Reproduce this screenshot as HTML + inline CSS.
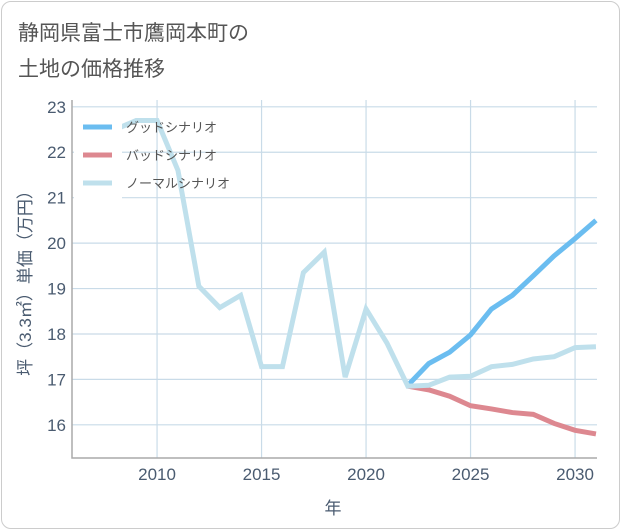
<!DOCTYPE html>
<html><head><meta charset="utf-8"><style>
body{margin:0;background:#fff;font-family:"Liberation Sans","Noto Sans CJK JP",sans-serif;}
#card{position:absolute;left:1px;top:1px;width:617px;height:526px;border:1px solid #ccc;border-radius:10px;background:#fff;}
</style></head><body>
<div id="card"></div>
<svg id="c" width="621" height="530" style="position:absolute;left:0;top:0">
<text x="18" y="40" font-size="21" fill="#555">静岡県富士市鷹岡本町の</text>
<text x="18" y="76" font-size="21" fill="#555">土地の価格推移</text>
</svg>
<script>
const years=[2008,2009,2010,2011,2012,2013,2014,2015,2016,2017,2018,2019,2020,2021,2022,2023,2024,2025,2026,2027,2028,2029,2030,2031];
const normal=[22.5,22.7,22.7,21.6,19.05,18.58,18.85,17.28,17.28,19.35,19.8,17.05,18.55,17.8,16.85,16.87,17.05,17.07,17.28,17.33,17.45,17.5,17.7,17.72];
const fYears=[2022,2023,2024,2025,2026,2027,2028,2029,2030,2031];
const good=[16.87,17.35,17.6,17.98,18.55,18.85,19.28,19.72,20.1,20.5];
const bad=[16.85,16.77,16.63,16.42,16.35,16.27,16.23,16.03,15.88,15.8];
const xTicks=[2010,2015,2020,2025,2030];
const yTicks=[16,17,18,19,20,21,22,23];
const L=72,R=597,T=100,B=458,x0=2005.93,x1=2031.05,y0=15.27,y1=23.15;
const X=v=>L+(v-x0)/(x1-x0)*(R-L), Y=v=>B-(v-y0)/(y1-y0)*(B-T);
const s=document.getElementById('c'),NS='http://www.w3.org/2000/svg';
function el(t,a,txt){const e=document.createElementNS(NS,t);for(const k in a)e.setAttribute(k,a[k]);if(txt!=null)e.textContent=txt;s.appendChild(e);return e;}
let e=el('rect',{x:L,y:T,width:R-L,height:B-T,fill:'#fff',stroke:'none'});

yTicks.forEach(v=>{let g=el('line',{x1:L,x2:R,y1:Y(v),y2:Y(v),stroke:'#c9dbe8','stroke-width':1.2});

let t=el('text',{x:L-6,y:Y(v)+6,'text-anchor':'end','font-size':17,fill:'#4a5b70'},v);
});
xTicks.forEach(v=>{let g=el('line',{x1:X(v),x2:X(v),y1:T,y2:B,stroke:'#c9dbe8','stroke-width':1.2});

let t=el('text',{x:X(v),y:B+22,'text-anchor':'middle','font-size':17,fill:'#4a5b70'},v);
});
e=el('path',{d:`M${L},${T}V${B}H${R}`,fill:'none',stroke:'#aaa','stroke-width':1.5});

function line(xs,vs,c,n){let d=xs.map((x,i)=>(i?'L':'M')+X(x)+','+Y(vs[i])).join('');
let p=el('path',{d,fill:'none',stroke:c,'stroke-width':5,'stroke-linejoin':'miter'});
}
line(fYears,bad,'#dd8890','bad-scenario-line');
line(fYears,good,'#6bbdf0','good-scenario-line');
line(years,normal,'#bfe0ec','normal-scenario-line');
e=el('rect',{x:74,y:108,width:48,height:92,fill:'#fff'});

[['グッドシナリオ','#6bbdf0'],['バッドシナリオ','#dd8890'],['ノーマルシナリオ','#bfe0ec']].forEach((l,i)=>{
let y=127+i*28;
let g=el('line',{x1:83,x2:112,y1:y,y2:y,stroke:l[1],'stroke-width':5});

let t=el('text',{x:126,y:y+5,'font-size':13,fill:'#555'},l[0]);
});
e=el('text',{x:333,y:514,'text-anchor':'middle','font-size':17,fill:'#4a5b70'},'年');

e=el('text',{x:0,y:0,'text-anchor':'middle','font-size':17,fill:'#4a5b70',transform:`translate(31,${(T+B)/2}) rotate(-90)`},'坪（3.3㎡）単価（万円）');

</script>
</body></html>
